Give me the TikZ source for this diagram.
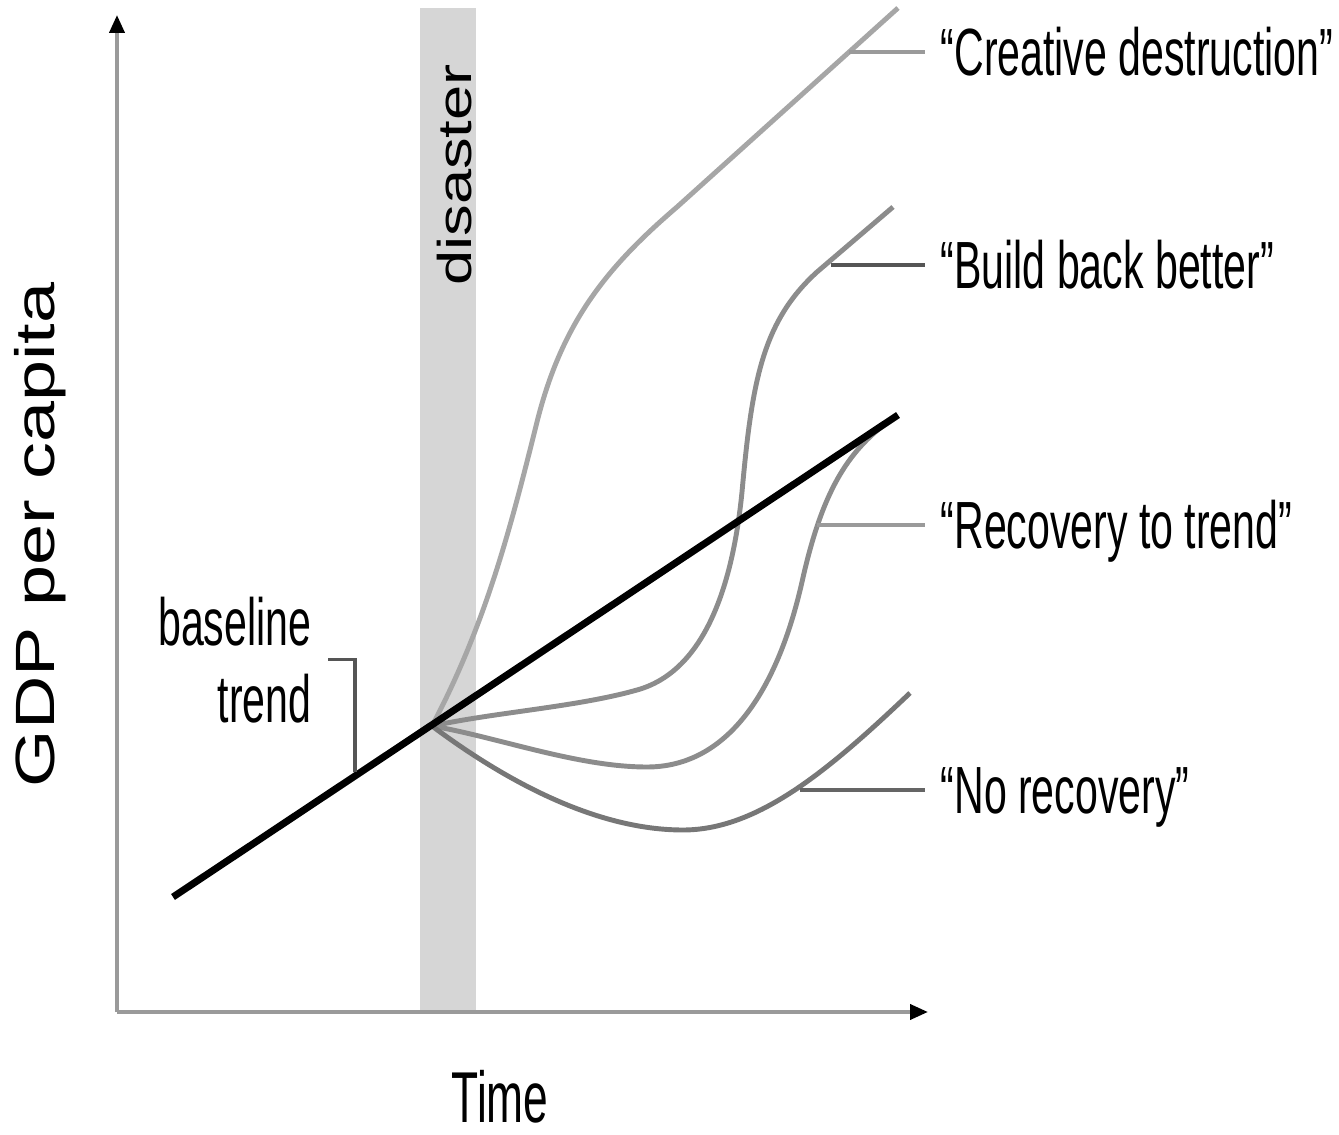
\documentclass[tikz,border=0pt]{standalone}
\usepackage{fontspec}
\setmainfont{Liberation Sans}
\newfontfamily\narrowfont{Liberation Sans}[FakeStretch=0.615]
\usetikzlibrary{arrows.meta,positioning}
\definecolor{bargray}{HTML}{D6D6D6}
\definecolor{axisgray}{HTML}{9A9A9A}
\definecolor{lightpath}{HTML}{A6A6A6}
\definecolor{midpath}{HTML}{8C8C8C}
\definecolor{darkpath}{HTML}{777777}
\definecolor{bracketgray}{HTML}{555555}
\newcommand{\squashtext}[1]{\scalebox{1}[0.75]{#1}}
\begin{document}
\begin{tikzpicture}[
  axis/.style={draw=axisgray, line width=1.1pt, -{Triangle[black,length=0.18cm,width=0.15cm]}},
  scenario/.style={line width=1.4pt},
  leader/.style={line width=1.1pt},
  lbl/.style={inner xsep=0.15cm, inner ysep=0pt, text height=13.6pt, text depth=0pt, anchor=west,
    font=\narrowfont\fontsize{19}{22}\selectfont}]
\useasboundingbox (-1.17,-1.22) rectangle (12.22,10.12);
% disaster band
\fill[bargray] (3.03,0.02) rectangle (3.59,10.04);
\node[rotate=90, inner sep=0pt, font=\fontsize{18}{20}\selectfont] (dis) at (3.38,8.37) {\squashtext{disaster}};
% axes
\coordinate (origin) at (0,0);
\draw[axis] (origin) -- (0,9.97);
\draw[axis] (origin) -- (8.11,0);
\node[rotate=90, inner sep=0pt, font=\fontsize{21}{24}\selectfont] (ylab) at (-0.77,4.77) {\squashtext{GDP per capita}};
\node[inner sep=0pt, font=\narrowfont\fontsize{20.5}{24}\selectfont] (xlab) at (3.83,-0.85) {Time};
% scenarios after the disaster
\coordinate (fork) at (3.15,2.86);
\draw[scenario, lightpath] (fork) .. controls (3.7,3.9) and (3.95,4.9) .. (4.2,5.9)
  .. controls (4.45,6.9) and (4.9,7.45) .. (5.6,8.05) -- (7.81,10.04);
\draw[scenario, midpath] (fork) .. controls (3.8,3.0) and (4.6,3.05) .. (5.2,3.22)
  .. controls (5.85,3.4) and (6.15,4.2) .. (6.25,5.2)
  .. controls (6.35,6.3) and (6.45,6.9) .. (7.0,7.4) -- (7.76,8.05);
\draw[scenario, midpath] (fork) .. controls (3.8,2.75) and (4.6,2.45) .. (5.3,2.45)
  .. controls (6.1,2.45) and (6.6,3.2) .. (6.85,4.3)
  .. controls (7.05,5.2) and (7.3,5.6) .. (7.72,5.91);
\draw[scenario, darkpath] (fork) .. controls (3.9,2.3) and (4.8,1.82) .. (5.66,1.82)
  .. controls (6.4,1.82) and (7.1,2.4) .. (7.93,3.19);
% baseline trend
\coordinate (trendstart) at (0.56,1.15);
\coordinate (trendend) at (7.81,5.97);
\draw[black, line width=2pt] (trendstart) -- (trendend);
% labels
\coordinate (cdpt) at (7.32,9.60);
\coordinate (bbbpt) at (7.14,7.47);
\coordinate (recpt) at (7.00,4.87);
\coordinate (nrpt) at (6.83,2.22);
\node[lbl] (cdlbl) at (8.08,9.60) {“Creative destruction”};
\node[lbl] (bbblbl) at (8.08,7.47) {“Build back better”};
\node[lbl] (reclbl) at (8.08,4.87) {“Recovery to trend”};
\node[lbl] (nrlbl) at (8.08,2.22) {“No recovery”};
\draw[leader, axisgray] (cdpt) -- (cdlbl.west);
\draw[leader, bracketgray] (bbbpt) -- (bbblbl.west);
\draw[leader, axisgray] (recpt) -- (reclbl.west);
\draw[leader, darkpath!85!black] (nrpt) -- (nrlbl.west);
\node[align=right, anchor=north east, inner sep=0pt, font=\narrowfont\fontsize{19}{22}\selectfont] (basetxt) at (1.95,4.16) {baseline\\trend};
\coordinate (trendpt) at (2.38,2.40);
\draw[bracketgray, line width=0.9pt] ([xshift=0.16cm]basetxt.east) -| (trendpt);
\end{tikzpicture}
\end{document}
